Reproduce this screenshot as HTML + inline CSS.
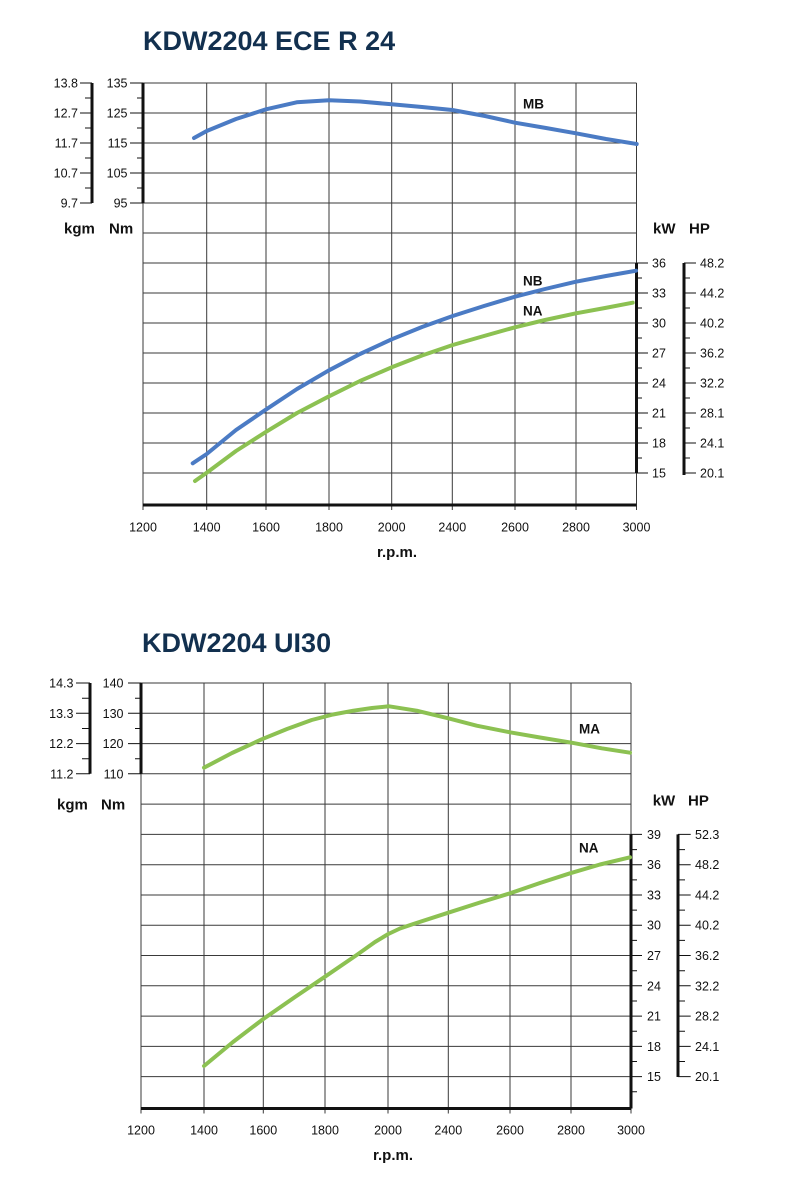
<!DOCTYPE html>
<html><head><meta charset="utf-8"><style>
html,body{margin:0;padding:0;background:#fff;}
svg{display:block;}
text{font-family:"Liberation Sans",Arial,sans-serif;fill:#111;}
.t{font-size:12.5px;}
.b{font-size:15px;font-weight:bold;}
.c{font-size:13.5px;font-weight:bold;}
.h{font-size:27px;font-weight:bold;fill:#12304f;}
</style></head><body>
<svg width="800" height="1179" viewBox="0 0 800 1179" xmlns="http://www.w3.org/2000/svg">
<!-- ============ CHART 1 ============ -->
<text class="h" x="143" y="50">KDW2204 ECE R 24</text>
<g stroke="#3a3a3a" stroke-width="1" fill="none">
<path d="M143 83H636.5M143 113H636.5M143 143H636.5M143 173H636.5M143 203H636.5M143 233H636.5M143 263H636.5M143 293H636.5M143 323H636.5M143 353H636.5M143 383H636.5M143 413H636.5M143 443H636.5M143 473H636.5"/>
<path d="M143 83V510M206.7 83V510M266 83V510M329 83V510M391.7 83V510M452.3 83V510M515 83V510M576 83V510M636.5 83V510"/>
</g>
<g stroke="#111" fill="none">
<path stroke-width="3" d="M143 505H636.5M143 83V203M92 83V203M636.5 263V473M684 263V475"/>
<path stroke-width="1" d="M80 83H92M80 113H92M80 143H92M80 173H92M80 203H92M85 98H92M85 128H92M85 158H92M85 188H92
M130 83H143M130 113H143M130 143H143M130 173H143M130 203H143M137 98H143M137 128H143M137 158H143M137 188H143
M636.5 263H648M636.5 293H648M636.5 323H648M636.5 353H648M636.5 383H648M636.5 413H648M636.5 443H648M636.5 473H648
M636.5 278H642M636.5 308H642M636.5 338H642M636.5 368H642M636.5 398H642M636.5 428H642M636.5 458H642
M684 263H696M684 293H696M684 323H696M684 353H696M684 383H696M684 413H696M684 443H696M684 473H696
M684 278H690M684 308H690M684 338H690M684 368H690M684 398H690M684 428H690M684 458H690"/>
</g>
<g class="t" text-anchor="end">
<text x="78" y="87.5">13.8</text><text x="78" y="117.5">12.7</text><text x="78" y="147.5">11.7</text><text x="78" y="177.5">10.7</text><text x="78" y="207.5">9.7</text>
<text x="127.5" y="87.5">135</text><text x="127.5" y="117.5">125</text><text x="127.5" y="147.5">115</text><text x="127.5" y="177.5">105</text><text x="127.5" y="207.5">95</text>
</g>
<g class="t">
<text x="652" y="267.5">36</text><text x="652" y="297.5">33</text><text x="652" y="327.5">30</text><text x="652" y="357.5">27</text><text x="652" y="387.5">24</text><text x="652" y="417.5">21</text><text x="652" y="447.5">18</text><text x="652" y="477.5">15</text>
<text x="700" y="267.5">48.2</text><text x="700" y="297.5">44.2</text><text x="700" y="327.5">40.2</text><text x="700" y="357.5">36.2</text><text x="700" y="387.5">32.2</text><text x="700" y="417.5">28.1</text><text x="700" y="447.5">24.1</text><text x="700" y="477.5">20.1</text>
</g>
<g class="t" text-anchor="middle">
<text x="143" y="531.5">1200</text><text x="206.7" y="531.5">1400</text><text x="266" y="531.5">1600</text><text x="329" y="531.5">1800</text><text x="391.7" y="531.5">2000</text><text x="452.3" y="531.5">2400</text><text x="515" y="531.5">2600</text><text x="576" y="531.5">2800</text><text x="636.5" y="531.5">3000</text>
</g>
<text class="b" x="397" y="557" text-anchor="middle">r.p.m.</text>
<text class="b" x="64" y="233.5">kgm</text><text class="b" x="109" y="233.5">Nm</text>
<text class="b" x="653" y="233.5">kW</text><text class="b" x="689" y="233.5">HP</text>
<g fill="none" stroke-width="4" stroke-linecap="round" stroke-linejoin="round">
<polyline stroke="#4b7bc4" points="194,138 206.7,131 236,119 266,109.3 296.7,102.3 329,100.3 360,101.5 391.7,104.3 422,107 452.3,110 485,116 515,122.7 546,128 576,133.3 606,139 636.7,144"/>
<polyline stroke="#4b7bc4" points="192.7,463.3 206.7,454 236,430 266.3,409.3 297,389 328.3,370.7 360,354 391.7,339.3 422,327 452.7,316 484,306 515,296.7 545,289 576,281.7 606,276 636,270.7"/>
<polyline stroke="#8cc152" points="195,481 206.7,472.7 236,451 266.3,431.7 297,413 328.3,396.7 360,381 391.7,367.3 422,355.5 452.7,345 484,336 515,327.3 545,320 576,313.3 605,308 632.7,302.7"/>
</g>
<text class="c" x="523" y="108.5">MB</text>
<text class="c" x="523" y="285.5">NB</text>
<text class="c" x="523" y="315.5">NA</text>

<!-- ============ CHART 2 ============ -->
<text class="h" x="142" y="652">KDW2204 UI30</text>
<g stroke="#3a3a3a" stroke-width="1" fill="none">
<path d="M141 683H631M141 713.3H631M141 743.6H631M141 773.8H631M141 804.1H631M141 834.4H631M141 864.7H631M141 895H631M141 925.2H631M141 955.5H631M141 985.8H631M141 1016.1H631M141 1046.4H631M141 1076.6H631"/>
<path d="M141 683V1113.5M204 683V1113.5M263.3 683V1113.5M325 683V1113.5M388 683V1113.5M448.3 683V1113.5M510 683V1113.5M571 683V1113.5M631 683V1113.5"/>
</g>
<g stroke="#111" fill="none">
<path stroke-width="3" d="M141 1108.5H631M141 683V773.8M90 683V773.8M631 834.4V1108.5M678 834.4V1077"/>
<path stroke-width="1" d="M76 683H90M76 713.3H90M76 743.6H90M76 773.8H90M82 698.2H90M82 728.5H90M82 758.7H90
M128 683H141M128 713.3H141M128 743.6H141M128 773.8H141M135 698.2H141M135 728.5H141M135 758.7H141
M631 834.4H642M631 864.7H642M631 895H642M631 925.2H642M631 955.5H642M631 985.8H642M631 1016.1H642M631 1046.4H642M631 1076.6H642
M631 849.6H637M631 879.9H637M631 910.1H637M631 940.4H637M631 970.7H637M631 1001H637M631 1031.3H637M631 1061.5H637M631 1091.8H637
M678 834.4H690.7M678 864.7H690.7M678 895H690.7M678 925.2H690.7M678 955.5H690.7M678 985.8H690.7M678 1016.1H690.7M678 1046.4H690.7M678 1076.6H690.7
M678 849.6H685M678 879.9H685M678 910.1H685M678 940.4H685M678 970.7H685M678 1001H685M678 1031.3H685M678 1061.5H685"/>
</g>
<g class="t" text-anchor="end">
<text x="73.5" y="687.5">14.3</text><text x="73.5" y="717.8">13.3</text><text x="73.5" y="748.1">12.2</text><text x="73.5" y="778.3">11.2</text>
<text x="123.5" y="687.5">140</text><text x="123.5" y="717.8">130</text><text x="123.5" y="748.1">120</text><text x="123.5" y="778.3">110</text>
</g>
<g class="t">
<text x="647" y="838.9">39</text><text x="647" y="869.2">36</text><text x="647" y="899.5">33</text><text x="647" y="929.7">30</text><text x="647" y="960">27</text><text x="647" y="990.3">24</text><text x="647" y="1020.6">21</text><text x="647" y="1050.9">18</text><text x="647" y="1081.1">15</text>
<text x="695" y="838.9">52.3</text><text x="695" y="869.2">48.2</text><text x="695" y="899.5">44.2</text><text x="695" y="929.7">40.2</text><text x="695" y="960">36.2</text><text x="695" y="990.3">32.2</text><text x="695" y="1020.6">28.2</text><text x="695" y="1050.9">24.1</text><text x="695" y="1081.1">20.1</text>
</g>
<g class="t" text-anchor="middle">
<text x="141" y="1134.5">1200</text><text x="204" y="1134.5">1400</text><text x="263.3" y="1134.5">1600</text><text x="325" y="1134.5">1800</text><text x="388" y="1134.5">2000</text><text x="448.3" y="1134.5">2400</text><text x="510" y="1134.5">2600</text><text x="571" y="1134.5">2800</text><text x="631" y="1134.5">3000</text>
</g>
<text class="b" x="393" y="1160" text-anchor="middle">r.p.m.</text>
<text class="b" x="57" y="809.5">kgm</text><text class="b" x="101" y="809.5">Nm</text>
<text class="b" x="652.7" y="805.5">kW</text><text class="b" x="688" y="805.5">HP</text>
<g fill="none" stroke-width="4" stroke-linecap="round" stroke-linejoin="round" stroke="#8cc152">
<polyline points="204,767.7 232,753 261.7,739.3 287,729 311.7,720 333,714.5 353.3,710.7 372,708 389,706.3 416.7,710.7 448.3,718.3 476.7,725.7 510,732.3 540,737.5 571.7,742.7 601.7,748.3 630,752.7"/>
<polyline points="204,1066 233,1042 263.3,1019 295,997 325,976.7 356.7,955 375,942 388.3,934 400,928.5 413.3,924 448.3,912.7 480,902.5 510,893.3 540,883 570,873.3 600,864.5 630,857.3"/>
</g>
<text class="c" x="579" y="733.5">MA</text>
<text class="c" x="579" y="852.5">NA</text>
</svg>
</body></html>
